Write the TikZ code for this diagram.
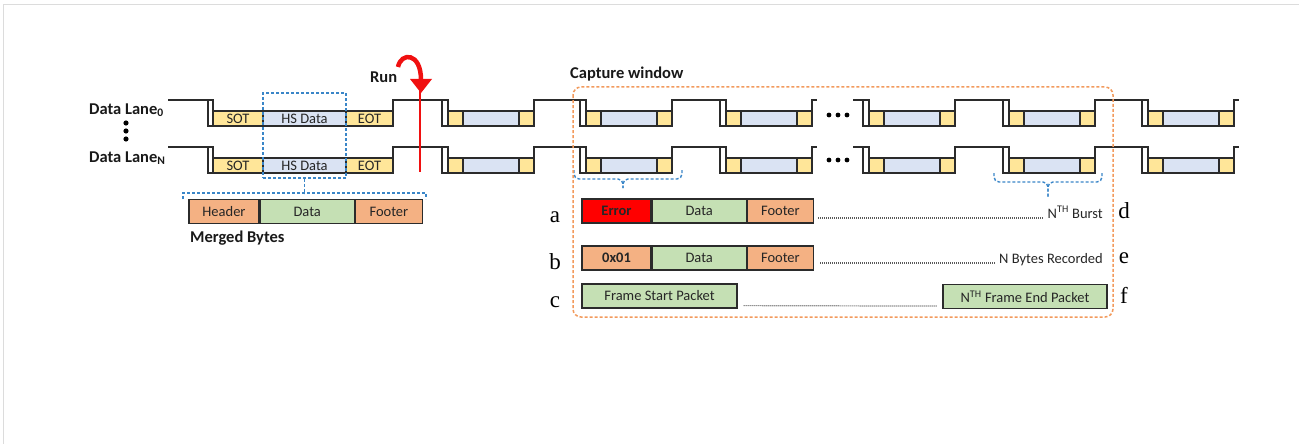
\documentclass[tikz,border=0pt]{standalone}
\usepackage{fontspec}
\setmainfont{Carlito}
\newfontfamily\rowfont{Liberation Serif}
\usetikzlibrary{calc}
\definecolor{sotfill}{HTML}{FFE699}
\definecolor{hsfill}{HTML}{DAE3F3}
\definecolor{hdrfill}{HTML}{F4B183}
\definecolor{datfill}{HTML}{C5E0B4}
\definecolor{errfill}{HTML}{FF0000}
\definecolor{selblue}{HTML}{3A86C8}
\definecolor{winorange}{HTML}{F29A5C}
\definecolor{runred}{HTML}{F01010}
\definecolor{wirecol}{HTML}{2B2B2B}
\definecolor{framegray}{HTML}{DCDCDC}
\tikzset{
  wire/.style={draw=wirecol, line width=1.4pt},
  seg/.style={draw=wirecol, line width=1.2pt, inner sep=0pt, minimum height=15pt, text=black!85, font=\fontsize{14.5}{14}\selectfont},
  pkt/.style={draw=wirecol, line width=1.2pt, inner sep=0pt, minimum height=24pt, text=black!85, font=\fontsize{14.5}{15}\selectfont},
  pktb/.style={pkt, font=\fontsize{14.5}{15}\selectfont\bfseries},
  seldash/.style={draw=selblue, line width=1.4pt, dash pattern=on 3pt off 2pt},
  windash/.style={draw=winorange, line width=1.5pt, dash pattern=on 3pt off 2pt},
  dotline/.style={draw=black!65, line width=1.2pt, dash pattern=on 1pt off 1pt},
  lbl/.style={font=\fontsize{16.5}{18}\selectfont\bfseries, inner sep=0pt, text=black!90},
  sidelbl/.style={font=\fontsize{14.5}{15}\selectfont, inner sep=0pt, text=black!85},
  rowlbl/.style={font=\fontsize{23}{23}\selectfont\rowfont, inner sep=0pt, anchor=base},
}
% one short burst: left edge x, high level y, end of the following high line
\def\burst(#1,#2,#3){%
  \draw[wire,fill=white] (#1,#2) rectangle (#1+6,#2+26);
  \draw[wire,fill=sotfill] (#1+6,#2+11) rectangle (#1+21,#2+26);
  \draw[wire,fill=hsfill] (#1+21,#2+11) rectangle (#1+77,#2+26);
  \draw[wire,fill=sotfill] (#1+77,#2+11) rectangle (#1+92,#2+26);
  \draw[wire] (#1+92,#2+26) -- (#1+92,#2) -- (#3,#2);
}

\begin{document}
\begin{tikzpicture}[x=1pt,y=-1pt]
		\useasboundingbox (0,0) rectangle (1299,444);
		%%%%% START %%%%%
		\draw[framegray, line width=1.5pt] (3.5,444) -- (3.5,4.5) -- (1299,4.5);
		
		\foreach \h/\n in {100/0,147/1} {
			\draw[wire] (168,\h) -- (214,\h);
			\draw[wire,fill=white] (208,\h) rectangle (213,\h+26);
			\node[seg,fill=sotfill,minimum width=50pt] (sot\n) at (238,\h+18.5) {SOT};
			\node[seg,fill=hsfill,minimum width=83pt] (hs\n) at (304.5,\h+18.5) {HS Data};
			\node[seg,fill=sotfill,minimum width=47pt] (eot\n) at (369.5,\h+18.5) {EOT};
			\draw[wire] (393,\h+26) -- (393,\h) -- (448,\h);
			\foreach \x/\e in {442/586, 580/726, 720/817, 863/1009, 1003/1148, 1142/1239}
				{\burst(\x,\h,\e)}
			\draw[wire] (853,\h) -- (869,\h);
		}
		
		% lane labels and dots
		\node[lbl, anchor=base west] (lane0) at (89,114) {Data Lane\textsubscript{0}};
		\node[lbl, anchor=base west] (laneN) at (89,162) {Data Lane\textsubscript{N}};
		\foreach \y in {123,131,139} \fill[black] (126,\y) circle (2.6);
		\foreach \x in {829,838,847} {
			\fill[black] (\x,115) circle (2.4);
			\fill[black] (\x,160) circle (2.4);
		}
		
		% run marker
		\node[lbl, anchor=base west] (runlbl) at (370,82) {Run};
		\draw[runred, line width=1.6pt] (420,90) -- (420,172);
		\draw[runred, line width=4.5pt] (398,67) .. controls (401,52) and (421,52) .. (421,80);
		\fill[runred] (410,79) -- (432,79) -- (421,93) -- cycle;
		
		% merged bytes
		\node[seldash, inner sep=0pt, minimum width=83pt, minimum height=85pt] (hssel) at (304.5,135.5) {};
		\draw[seldash] (hssel.south) -- ++(0,15);
		\draw[seldash] (183,199) -- (183,193) -- (426,193) -- (426,199);
		\node[pkt, fill=hdrfill, minimum width=70pt] (mhdr) at (224,211.5) {Header};
		\node[pkt, fill=datfill, minimum width=94pt, anchor=west] (mdat) at (mhdr.east) {Data};
		\node[pkt, fill=hdrfill, minimum width=67pt, anchor=west] (mftr) at (mdat.east) {Footer};
		\node[lbl, anchor=base west] (mrglbl) at (190,242) {Merged Bytes};
		
		% capture window
		\node[lbl, anchor=base west] (caplbl) at (570,78) {Capture window};
		\draw[seldash, rounded corners=5pt] (574,170) |- (623,179) -- (623,188);
		\draw[seldash, rounded corners=5pt] (682,170) |- (623,179) -- (623,188);
		\draw[seldash, rounded corners=5pt] (994,173) |- (1048,182) -- (1048,197);
		\draw[seldash, rounded corners=5pt] (1102,173) |- (1048,182) -- (1048,197);
		
		\node[pktb, fill=errfill, minimum width=69pt] (errA) at (616.5,211) {Error};
		\node[pkt, fill=datfill, minimum width=94pt, anchor=west] (datA) at (errA.east) {Data};
		\node[pkt, fill=hdrfill, minimum width=66pt, anchor=west] (ftrA) at (datA.east) {Footer};
		\node[sidelbl, anchor=base east] (nburst) at (1103,218) {N\textsuperscript{TH} Burst};
		\draw[dotline] ($(ftrA.east |- nburst.base)+(4,0)$) -- ($(nburst.base west)+(-4,0)$);
		
		\node[pktb, fill=hdrfill, minimum width=69pt] (hexB) at (616.5,258) {0x01};
		\node[pkt, fill=datfill, minimum width=94pt, anchor=west] (datB) at (hexB.east) {Data};
		\node[pkt, fill=hdrfill, minimum width=66pt, anchor=west] (ftrB) at (datB.east) {Footer};
		\node[sidelbl, anchor=base east] (nbytes) at (1103,263) {N Bytes Recorded};
		\draw[dotline] ($(ftrB.east |- nbytes.base)+(6,0)$) -- ($(nbytes.base west)+(-4,0)$);
		
		\node[pkt, fill=datfill, minimum width=155pt] (fsp) at (659.5,296) {Frame Start Packet};
		\node[pkt, fill=datfill, minimum width=164pt] (fep) at (1025,296.5) {N\textsuperscript{TH} Frame End Packet};
		\draw[dotline] ($(fsp.south east)+(6,-3)$) -- ($(fep.south west)+(-5,-3)$);
		
		\node[rowlbl] (rowa) at (555,222) {a};
		\node[rowlbl] (rowb) at (555,269) {b};
		\node[rowlbl] (rowc) at (555,307) {c};
		\node[rowlbl] (rowd) at (1124,218) {d};
		\node[rowlbl] (rowe) at (1124,263) {e};
		\node[rowlbl] (rowf) at (1124,303) {f};
		
		\draw[windash, rounded corners=8pt] (573,87) rectangle (1113,317);
		%%%%% END %%%%%
\end{tikzpicture}
\end{document}
